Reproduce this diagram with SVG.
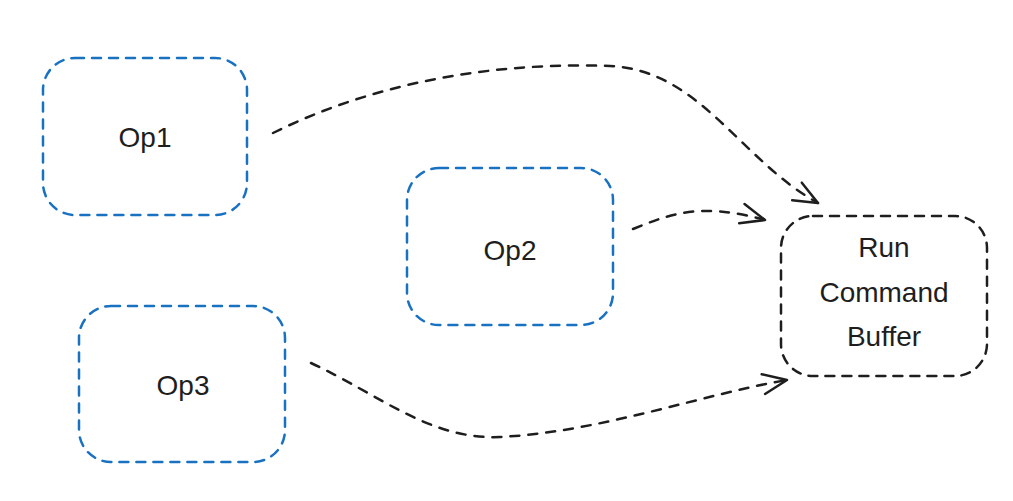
<svg xmlns="http://www.w3.org/2000/svg" width="1013" height="501" viewBox="0 0 1013 501">
<style>
.op{fill:none;stroke:#1971c2;stroke-width:2.5;stroke-dasharray:9 8;stroke-linecap:round}
.sink{fill:none;stroke:#1e1e1e;stroke-width:2.5;stroke-dasharray:9 8;stroke-linecap:round}
.edge{fill:none;stroke:#1e1e1e;stroke-width:2.5;stroke-dasharray:9 9;stroke-linecap:round}
.lbl{font-family:"Liberation Sans",Arial,sans-serif;font-size:28px;fill:#1e1e1e;text-anchor:middle;dominant-baseline:central}
</style>
<defs>
<marker id="ah" viewBox="0 0 30 30" refX="28" refY="15" markerWidth="30" markerHeight="30" markerUnits="userSpaceOnUse" orient="auto">
<path d="M4,5 L28,15 L4,25" fill="none" stroke="#1e1e1e" stroke-width="2.5" stroke-linecap="round" stroke-linejoin="round"/>
</marker>
</defs>
<g id="connectors">
<path class="edge" d="M273,133 C380,80 500,62 610,66 C700,70 740,160 818,203" marker-end="url(#ah)"/>
<path class="edge" d="M633,229 C670,214 700,202 765,220" marker-end="url(#ah)"/>
<path class="edge" d="M311,363 C380,395 430,440 500,437 C600,432 700,395 787,380" marker-end="url(#ah)"/>
</g>
<g id="op1">
<rect class="op" x="43" y="58" width="204" height="157" rx="32"/>
<text class="lbl" x="145" y="137">Op1</text>
</g>
<g id="op2">
<rect class="op" x="407" y="168" width="206" height="157" rx="32"/>
<text class="lbl" x="510" y="250">Op2</text>
</g>
<g id="op3">
<rect class="op" x="79" y="306" width="206" height="156" rx="32"/>
<text class="lbl" x="183" y="385">Op3</text>
</g>
<g id="run">
<rect class="sink" x="781" y="216" width="206" height="160" rx="32"/>
<text class="lbl" x="884" y="247">Run</text>
<text class="lbl" x="884" y="292">Command</text>
<text class="lbl" x="884" y="336">Buffer</text>
</g>
</svg>
